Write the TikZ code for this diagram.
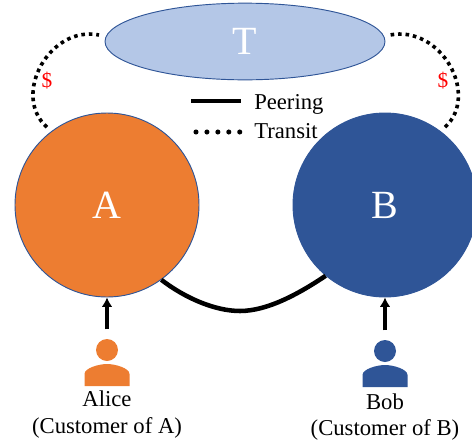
\documentclass[tikz,border=0pt]{standalone}
\usepackage{fontspec}
\setmainfont{Liberation Serif}
\usetikzlibrary{arrows.meta, shapes.geometric}
\definecolor{asorange}{HTML}{ED7D31}
\definecolor{asblue}{HTML}{2F5597}
\definecolor{asltblue}{HTML}{B4C7E7}
\tikzset{
	asnode/.style={circle, draw=asblue, line width=.7pt, inner sep=0pt, minimum size=138pt, text=white, font=\fontsize{30}{32}\selectfont},
	head/.style={circle, inner sep=0pt, minimum size=16.5pt},
	peering/.style={line width=3.4pt},
	transit/.style={line width=2.7pt, dash pattern=on 2.7pt off 2.9pt},
	legenddots/.style={line width=3.8pt, line cap=round, dash pattern=on 0pt off 8.2pt},
	custarrow/.style={line width=2.4pt, -{Latex[length=7pt,width=8pt]}},
	caption/.style={inner sep=0pt, font=\fontsize{17}{20}\selectfont},
	cost/.style={inner sep=0pt, text=red, font=\fontsize{16}{18}\selectfont}
}
\begin{document}
\begin{tikzpicture}[x=.75pt, y=-.75pt]
	\useasboundingbox (0,0) rectangle (472,440);
	\clip (0,0) rectangle (472,440);

	\node [ellipse, draw=asblue, fill=asltblue, line width=.7pt, inner sep=0pt, minimum width=210pt, minimum height=57.5pt, text=white, font=\fontsize{30}{32}\selectfont] (T) at (245,41.5) {T};
	\node [asnode, fill=asorange] (A) at (107,205) {A};
	\node [asnode, fill=asblue] (B) at (385,205) {B};

	% customers
	\foreach \name/\col/\x/\y in {alice/asorange/107/350, bob/asblue/385/351} {
		\node [head, fill=\col] (\name) at (\x,\y) {};
		\fill [\col] (\x-22.5,\y+36) -- (\x-22.5,\y+24) .. controls (\x-22.5,\y+18) and (\x-8,\y+14) .. (\x,\y+14)
			.. controls (\x+8,\y+14) and (\x+22.5,\y+18) .. (\x+22.5,\y+24) -- (\x+22.5,\y+36) -- cycle;
	}
	\draw [custarrow, shorten <=7pt] (alice) -- (A);
	\draw [custarrow, shorten <=7pt] (bob) -- (B);
	\node [caption] (alicename) at (107,399) {Alice};
	\node [caption] (alicecust) at (107,428) {(Customer of A)};
	\node [caption] (bobname) at (385,402) {Bob};
	\node [caption] (bobcust) at (385,430) {(Customer of B)};

	% links
	\coordinate (tleft) at (99,35);
	\coordinate (tright) at (390,35);
	\draw [peering] (A.-54) .. controls (185,298) and (215,311) .. (240,311) .. controls (268,311) and (300,293) .. (B.-130);
	\draw [transit, shorten <=4.5pt] (A.127) .. controls (11,95) and (50,25) .. (tleft);
	\draw [transit, shorten <=4.5pt] (B.53) .. controls (480,95) and (441,25) .. (tright);
	\node [cost] (costa) at (47,81) {\$};
	\node [cost] (costb) at (443,81) {\$};

	% legend
	\coordinate (peerl) at (191,101);
	\coordinate (peerr) at (241,101);
	\coordinate (transl) at (196,132);
	\coordinate (transr) at (241,132);
	\node [caption, anchor=base west] (peertext) at (254,109) {Peering};
	\node [caption, anchor=base west] (transtext) at (254,138) {Transit};
	\draw [peering] (peerl) -- (peerr);
	\draw [legenddots] (transl) -- (transr);
\end{tikzpicture}
\end{document}
